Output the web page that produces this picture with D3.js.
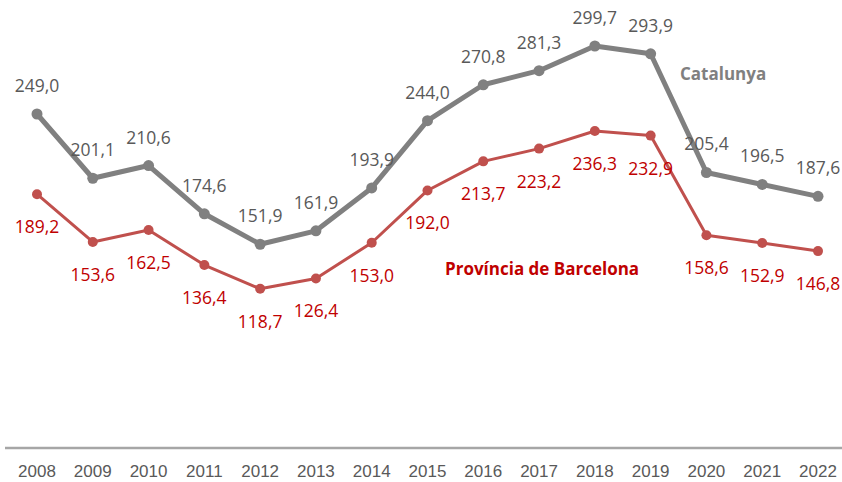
<!DOCTYPE html>
<html>
<head>
<meta charset="utf-8">
<script src="https://cdn.jsdelivr.net/npm/d3@7"></script>
<style>
  body { margin: 0; background: #fff; }
  svg text { font-family: "Open Sans", sans-serif; }
</style>
</head>
<body>
<div id="chart"></div>
<script>
// years and the two series
const years = [2008, 2009, 2010, 2011, 2012, 2013, 2014, 2015, 2016, 2017, 2018, 2019, 2020, 2021, 2022];
const catalunya = [249.0, 201.1, 210.6, 174.6, 151.9, 161.9, 193.9, 244.0, 270.8, 281.3, 299.7, 293.9, 205.4, 196.5, 187.6];
const barcelona = [189.2, 153.6, 162.5, 136.4, 118.7, 126.4, 153.0, 192.0, 213.7, 223.2, 236.3, 232.9, 158.6, 152.9, 146.8];

const width = 842, height = 482;
const fmt = v => v.toFixed(1).replace(".", ",");

const svg = d3.select("#chart").append("svg")
    .attr("width", width)
    .attr("height", height);

const x = d3.scalePoint()
    .domain(years)
    .range([37, 818]);

const y = d3.scaleLinear()
    .domain([0, 334])
    .range([448, 0]);

// baseline axis
svg.append("line")
    .attr("x1", 5).attr("x2", 842)
    .attr("y1", y(0)).attr("y2", y(0))
    .attr("stroke", "#a6a6a6")
    .attr("stroke-width", 2.5);

svg.selectAll(".year")
    .data(years)
    .enter().append("text")
    .attr("class", "year")
    .attr("x", d => x(d))
    .attr("y", 471)
    .attr("text-anchor", "middle")
    .attr("dominant-baseline", "central")
    .style("font-family", "'Liberation Sans Narrow', sans-serif")
    .style("font-size", "17px")
    .attr("fill", "#595959")
    .text(d => d);

function drawSeries(values, color, lineWidth, r, labelColor, dy) {
    const pts = values.map((v, i) => [years[i], v]);
    const line = d3.line()
        .x(d => x(d[0]))
        .y(d => y(d[1]));

    svg.append("path")
        .datum(pts)
        .attr("fill", "none")
        .attr("stroke", color)
        .attr("stroke-width", lineWidth)
        .attr("stroke-linejoin", "round")
        .attr("d", line);

    svg.append("g").selectAll("circle")
        .data(pts)
        .enter().append("circle")
        .attr("cx", d => x(d[0]))
        .attr("cy", d => y(d[1]))
        .attr("r", r)
        .attr("fill", color);

    svg.append("g").selectAll("text")
        .data(pts)
        .enter().append("text")
        .attr("x", d => x(d[0]))
        .attr("y", d => y(d[1]) + dy)
        .attr("text-anchor", "middle")
        .attr("dominant-baseline", "central")
        .style("font-size", "17.5px")
        .attr("fill", labelColor)
        .text(d => fmt(d[1]));
}

drawSeries(catalunya, "#808080", 5, 5.5, "#595959", -29);
drawSeries(barcelona, "#c0504d", 3, 5, "#c00000", 32);

// series names
svg.append("text")
    .attr("x", 680).attr("y", 73)
    .attr("dominant-baseline", "central")
    .style("font-size", "17px")
    .style("font-weight", "bold")
    .attr("fill", "#808080")
    .text("Catalunya");

svg.append("text")
    .attr("x", 445).attr("y", 268)
    .attr("dominant-baseline", "central")
    .style("font-size", "17px")
    .style("font-weight", "bold")
    .attr("fill", "#c00000")
    .text("Província de Barcelona");
</script>
</body>
</html>
